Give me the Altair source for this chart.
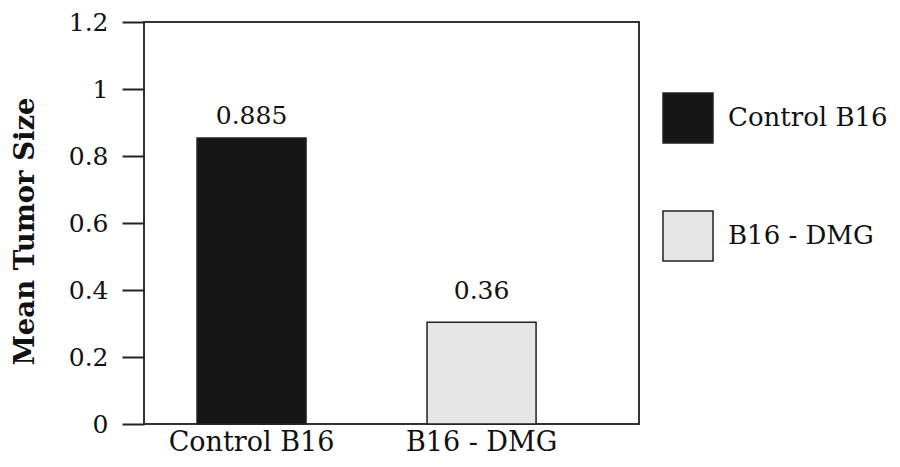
import altair as alt
import pandas as pd

# ---- data ----
groups = ["Control B16", "B16 - DMG"]
bar_heights = [0.854, 0.304]          # drawn bar heights
label_values = [0.885, 0.36]          # printed values (labels sit at these levels)
label_texts = ["0.885", "0.36"]
bar_colors = ["#161616", "#e6e6e6"]
y_ticks = [0, 0.2, 0.4, 0.6, 0.8, 1.0, 1.2]

df = pd.DataFrame({
    "group": groups,
    "height": bar_heights,
    "label_value": label_values,
    "label": label_texts,
})

FONT = "DejaVu Serif"
FS = 25      # digits
FS_TXT = 27  # words

x_scale = alt.Scale(paddingInner=0.526, paddingOuter=0.339, align=0.34)
x_axis = alt.Axis(labelAngle=0, labelFont=FONT, labelFontSize=FS_TXT, labelColor="#111",
                  labelPadding=5, labelLimit=400, ticks=False, domain=False, grid=False,
                  title=None)
y_scale = alt.Scale(domain=[0, 1.2], nice=False)
y_axis = alt.Axis(values=y_ticks, format=".1~f", title="Mean Tumor Size",
                  labelFont=FONT, labelFontSize=FS, labelColor="#111", labelPadding=14,
                  tickSize=22, tickWidth=2, tickColor="#222", domain=False, grid=False,
                  titleFont=FONT, titleFontSize=27.5, titleFontWeight="bold", titleColor="#111",
                  titleAngle=-90, titleX=-119, titleY=209, titleAlign="center",
                  titleBaseline="middle", titleLimit=600)

bars = alt.Chart(df).mark_bar(stroke="#222", strokeWidth=1.5).encode(
    x=alt.X("group:N", sort=groups, scale=x_scale, axis=x_axis),
    y=alt.Y("height:Q", scale=y_scale, axis=y_axis),
    color=alt.Color("group:N", sort=groups,
                    scale=alt.Scale(domain=groups, range=bar_colors),
                    legend=alt.Legend(title=None, orient="none", legendX=518, legendY=70,
                                      symbolType="square", symbolSize=2500,
                                      symbolStrokeColor="#222", symbolStrokeWidth=1.5,
                                      symbolOpacity=1,
                                      labelFont=FONT, labelFontSize=26, labelColor="#111",
                                      labelLimit=400,
                                      labelOffset=14, rowPadding=62, padding=0)),
)

text = alt.Chart(df).mark_text(font=FONT, fontSize=FS, baseline="alphabetic", dy=-4,
                               color="#111").encode(
    x=alt.X("group:N", sort=groups, scale=x_scale, axis=x_axis),
    y=alt.Y("label_value:Q", scale=y_scale, axis=y_axis),
    text="label:N",
)

chart = alt.layer(bars, text).properties(
    width=495, height=402,
    autosize=alt.AutoSizeParams(type="none"),
    padding={"left": 136, "top": 14, "right": 253, "bottom": 35},
).configure_view(stroke="#333", strokeWidth=2)

chart.save("out.html", embed_options={"renderer": "svg", "actions": False})
